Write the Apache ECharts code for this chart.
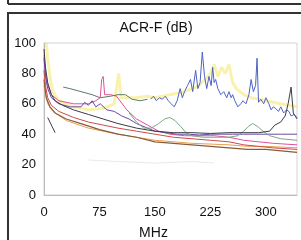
<!DOCTYPE html>
<html>
<head>
<meta charset="utf-8">
<script src="https://cdn.jsdelivr.net/npm/echarts@6/dist/echarts.min.js"></script>
<style>
  html, body { margin: 0; padding: 0; background: #fff; }
  #chart { width: 301px; height: 240px; }
</style>
</head>
<body>
<div id="chart"></div>
<script>
// axis ticks
var xTicks = [0, 75, 150, 225, 300];
var yTicks = [0, 20, 40, 60, 80, 100];

// curves: [MHz, dB]
var faintLine = [[60, 23], [100, 22], [150, 21], [200, 22], [230, 21]];
var yellowLine = [[3, 100], [5, 90], [8, 78], [12, 68], [20, 62], [40, 58], [60, 56], [80, 57], [95, 60], [101, 80], [104, 64],
  [110, 64], [125, 64], [140, 65], [150, 64], [170, 66], [190, 68], [210, 72], [225, 80], [230, 86], [235, 78], [240, 84],
  [245, 80], [250, 86], [255, 74], [260, 70], [270, 66], [280, 64], [300, 62], [320, 60], [342, 58]];
var orangeLine = [[0, 72], [5, 60], [12, 55], [30, 49], [60, 44], [100, 40], [150, 36], [200, 34], [250, 33], [275, 32], [300, 32], [342, 31]];
var brownLine = [[0, 76], [3, 64], [8, 58], [15, 54], [30, 50], [50, 47], [75, 43], [100, 40], [125, 38], [150, 35], [175, 34],
  [200, 33], [225, 32], [250, 31], [275, 30], [300, 30], [342, 28]];
var redLine = [[0, 82], [2, 72], [5, 64], [10, 59], [20, 55], [40, 51], [60, 48], [80, 46], [100, 44], [125, 42], [150, 40],
  [175, 38], [200, 37], [225, 36], [250, 35], [270, 33], [290, 32], [310, 31], [342, 30]];
var pinkLine = [[0, 92], [2, 80], [5, 72], [10, 66], [20, 62], [40, 60], [60, 60], [70, 62], [76, 64], [78, 76], [80, 78], [82, 66],
  [90, 66], [98, 65], [112, 56], [125, 50], [140, 46], [155, 42], [170, 40], [190, 39], [210, 39], [230, 39], [250, 38],
  [270, 36], [290, 35], [310, 34], [342, 33]];
var purpleLine = [[0, 90], [2, 78], [5, 70], [10, 64], [20, 60], [35, 58], [50, 58], [55, 61], [60, 59], [65, 62], [70, 58], [76, 60],
  [85, 56], [95, 55], [105, 52], [115, 50], [125, 47], [140, 44], [150, 42], [165, 41], [180, 40], [195, 40], [210, 39.5],
  [225, 40], [240, 40], [255, 40], [270, 40], [285, 40], [300, 40], [320, 40], [342, 40]];
var greenLine = [[115, 54], [125, 48], [135, 44], [145, 44], [155, 47], [163, 50], [170, 51], [177, 49], [185, 45], [192, 41],
  [200, 39], [215, 38], [230, 38], [250, 38], [262, 39], [270, 42], [276, 45], [282, 47], [289, 45], [296, 42], [305, 39],
  [320, 37], [342, 36]];
var grayGreenLine = [[26, 71], [35, 70], [50, 68], [65, 66], [76, 64], [90, 65], [100, 66], [110, 66], [119, 63], [130, 62], [140, 63]];
var darkLine = [[0, 96], [2, 84], [5, 74], [10, 66], [15, 62], [25, 59], [40, 56], [60, 53], [80, 50], [100, 47], [125, 44],
  [150, 42], [175, 41], [200, 41], [225, 40.5], [250, 41], [270, 41], [290, 41], [305, 42], [312, 46], [320, 48], [326, 52],
  [330, 60], [334, 71], [337, 54], [342, 50]];
var shortDark = [[5, 51], [8, 48], [11, 45], [15, 41]];
var blueLine = [[144, 63], [148, 65], [152, 62], [156, 64], [160, 63], [164, 65], [168, 62], [172, 60], [176, 58], [180, 62],
  [184, 70], [187, 64], [190, 68], [194, 72], [198, 76], [201, 68], [205, 82], [208, 70], [211, 74], [214, 94], [217, 78],
  [220, 70], [223, 78], [226, 72], [228, 84], [230, 74], [232, 76], [235, 70], [239, 66], [243, 68], [247, 64], [250, 68],
  [253, 64], [255, 66], [258, 62], [262, 58], [266, 60], [269, 62], [273, 60], [277, 66], [280, 76], [283, 68], [286, 72],
  [288, 90], [290, 61], [293, 63], [297, 60], [300, 64], [304, 60], [307, 56], [310, 58], [313, 57], [317, 55], [320, 58],
  [324, 54], [328, 56], [331, 55], [334, 52], [338, 53], [342, 51]];

function line(data, color, width, opacity) {
  return {
    type: 'line',
    data: data,
    showSymbol: false,
    silent: true,
    lineStyle: { color: color, width: width || 1, opacity: opacity == null ? 1 : opacity }
  };
}

var chart = echarts.init(document.getElementById('chart'));
var option = {
  animation: false,
  textStyle: { fontFamily: 'Liberation Sans, Arial, sans-serif' },
  title: {
    text: 'ACR-F (dB)',
    left: 156,
    top: 21,
    padding: 0,
    textAlign: 'center',
    textStyle: { fontSize: 14, fontWeight: 'normal', color: '#111' }
  },
  graphic: [
    { type: 'line', shape: { x1: 8, y1: 4, x2: 301, y2: 4 }, style: { stroke: '#333', lineWidth: 2 } },
    { type: 'line', shape: { x1: 8, y1: 0, x2: 8, y2: 4 }, style: { stroke: '#333', lineWidth: 2 } },
    { type: 'rect', shape: { x: 8, y: 13, width: 300, height: 240 }, style: { fill: 'none', stroke: '#333', lineWidth: 2 } }
  ],
  grid: {
    left: 44, top: 43, right: 4, bottom: 45,
    outerBoundsMode: 'none',
    show: true, borderColor: '#d4d4d4', borderWidth: 1
  },
  xAxis: {
    type: 'value',
    min: xTicks[0],
    max: 342,
    interval: 75,
    name: 'MHz',
    nameLocation: 'middle',
    nameGap: 31,
    nameTextStyle: { fontSize: 14, color: '#111', padding: [0, 34, 0, 0] },
    axisLine: { lineStyle: { color: '#bbb' } },
    axisTick: { show: false },
    splitLine: { show: false },
    axisLabel: { fontSize: 13, color: '#111', margin: 11, showMaxLabel: false }
  },
  yAxis: {
    type: 'value',
    min: yTicks[0],
    max: yTicks[yTicks.length - 1],
    interval: 20,
    axisLine: { show: true, lineStyle: { color: '#bbb' } },
    axisTick: { show: false },
    splitLine: { show: false },
    axisLabel: { fontSize: 13, color: '#111', margin: 8 }
  },
  series: [
    line(faintLine, '#e8e8ee', 1),
    line(yellowLine, '#f2de30', 3, 0.4),
    line(orangeLine, '#e6a050', 1),
    line(brownLine, '#8c5a3a', 1.2),
    line(redLine, '#cc4a4a', 1),
    line(pinkLine, '#e0509a', 1),
    line(purpleLine, '#6a4aa6', 1),
    line(greenLine, '#7aa880', 1),
    line(grayGreenLine, '#5d7a6a', 1),
    line(darkLine, '#3a3a44', 1),
    line(shortDark, '#3a3a44', 1),
    line(blueLine, '#4c62c4', 1)
  ]
};
option && chart.setOption(option);
</script>
</body>
</html>
